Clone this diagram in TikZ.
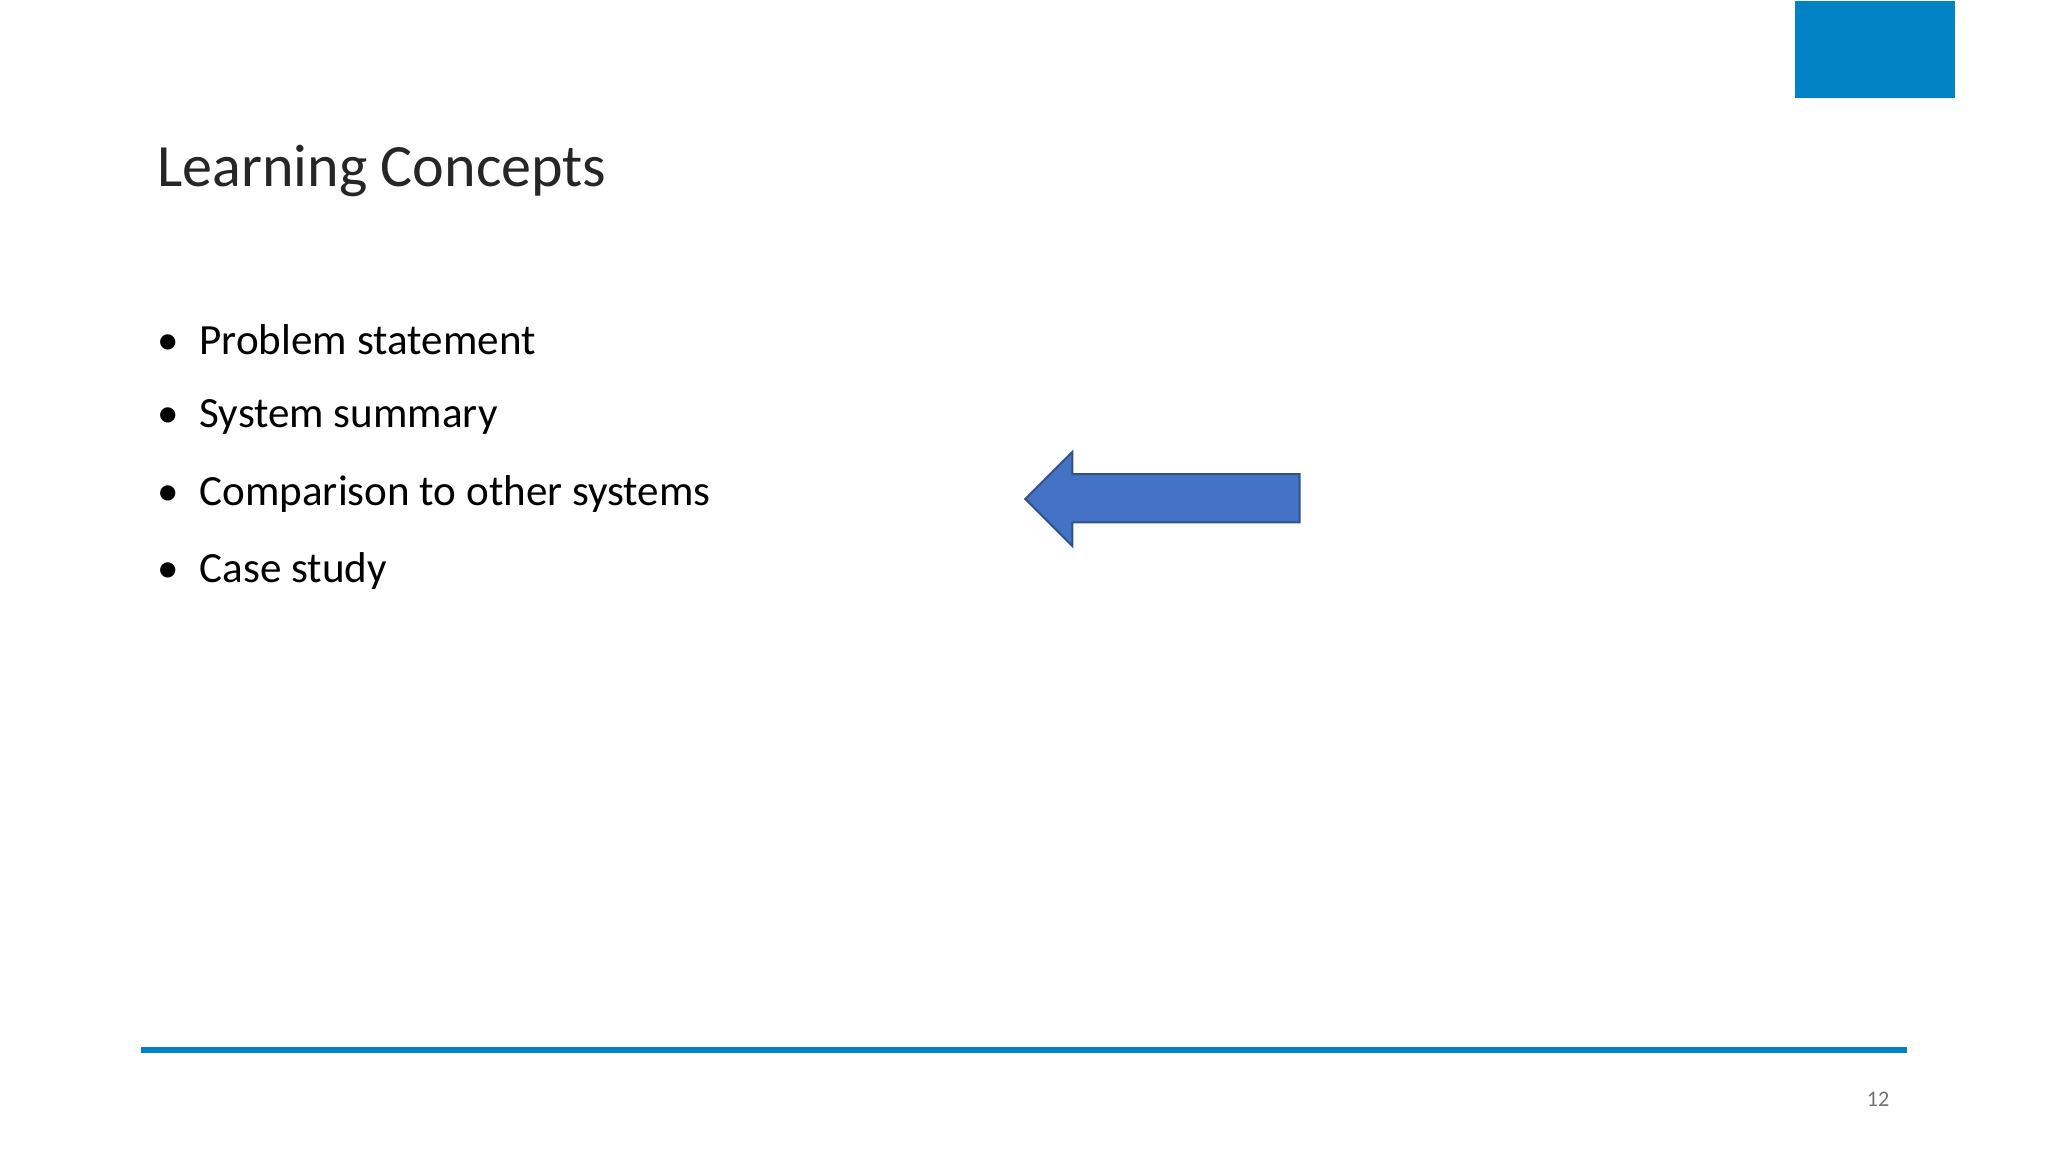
\documentclass[tikz,border=0pt]{standalone}
\usepackage{fontspec}
\setmainfont{Carlito}
\begin{document}
\begin{tikzpicture}[x=0.5pt,y=-0.5pt,
  bul/.style={anchor=west,inner sep=0pt,font=\fontsize{16.5}{18}\selectfont}]
\useasboundingbox (0,0) rectangle (1568,882);
\definecolor{accent}{HTML}{0082C4}
\definecolor{arrowfill}{HTML}{4472C4}
\definecolor{arrowline}{HTML}{2F528F}
\fill[accent] (1374,1) rectangle (1497,75);
\node[anchor=west,inner sep=0pt,font=\fontsize{23}{26}\selectfont,text=black!85] (title) at (120,131) {Learning Concepts};
\foreach \t/\y [count=\i] in {Problem statement/260,System summary/319,Comparison to other systems/378,Case study/437}{
  \node[bul] (b\i) at (120,\y) {\textbullet\hspace{8pt}\t};
}
\draw[arrowline,fill=arrowfill,line width=0.8pt] (785,382) -- (821,346) -- (821,363) -- (995,363) -- (995,400) -- (821,400) -- (821,418) -- cycle;
\fill[accent] (108,801.5) rectangle (1460,806.5);
\node[font=\fontsize{8.5}{10}\selectfont,text=black!55,inner sep=0pt] (pg) at (1438,842) {12};
\end{tikzpicture}
\end{document}
